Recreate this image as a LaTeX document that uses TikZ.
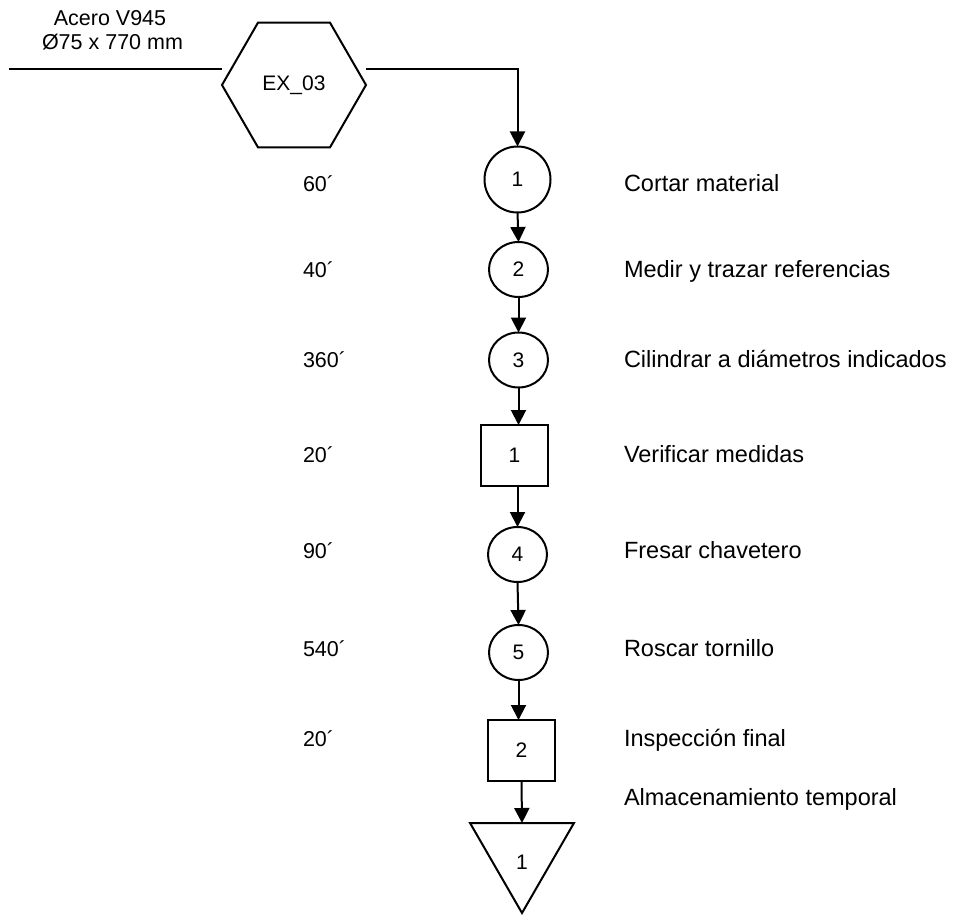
\documentclass[tikz,border=0pt]{standalone}
\usepackage{fontspec}
\setmainfont{Liberation Sans}
\usetikzlibrary{arrows.meta,shapes.geometric}
\begin{document}
\begin{tikzpicture}[x=1pt,y=-1pt,
  every node/.style={inner sep=0pt, outer sep=0pt},
  shp/.style={draw, line width=2pt, font=\fontsize{21}{25}\selectfont},
  op/.style={shp, ellipse, minimum width=59pt, minimum height=55pt},
  insp/.style={shp, rectangle, minimum width=67pt, minimum height=61pt},
  tlab/.style={anchor=base west, font=\fontsize{21.5}{25}\selectfont},
  dlab/.style={anchor=base west, font=\fontsize{23.5}{28}\selectfont},
  toplab/.style={anchor=base, font=\fontsize{21.5}{25}\selectfont},
  flow/.style={line width=2pt, -{Triangle[length=15pt,width=15pt]}},
  plain/.style={line width=2pt}]
\useasboundingbox (0,0) rectangle (958,915);

% material
\node[toplab] (mat1) at (110,26) {Acero V945};
\node[toplab] (mat2) at (112.5,50) {Ø75 x 770 mm};

% shapes
\node[shp, regular polygon, regular polygon sides=6, minimum size=144pt] (hex) at (294,85) {EX\_03};
\node[shp, circle, minimum size=66pt] (c1) at (517.5,179.5) {1};
\node[op] (c2) at (518.5,269.5) {2};
\node[op] (c3) at (518.5,360) {3};
\node[insp] (s1) at (514.5,455.5) {1};
\node[op] (c4) at (517.5,554.5) {4};
\node[op] (c5) at (518.5,652.5) {5};
\node[insp] (s2) at (521.5,750.5) {2};
\node[shp, regular polygon, regular polygon sides=3, shape border rotate=180, minimum size=120pt] (t1) at (522,853) {\smash{\raisebox{-16pt}{1}}};

% connectors
\coordinate (inL) at (9,69.5);
\draw[plain] (inL) -- (hex.west |- inL);
\draw[flow] (hex.east |- inL) -| (c1.north);
\draw[flow] (c1.south) -- (c2.north);
\draw[flow] (c2.south) -- (c3.north);
\draw[flow] (c3.south) -- (c3.south |- s1.north);
\draw[flow] (s1.south -| c4.north) -- (c4.north);
\draw[flow] (c4.south) -- (c5.north);
\draw[flow] (c5.south) -- (c5.south |- s2.north);
\draw[flow] (s2.south) -- (t1.north);

% times
\node[tlab] (t60) at (303,191) {60´};
\node[tlab] (t40) at (303,277) {40´};
\node[tlab] (t360) at (303,367) {360´};
\node[tlab] (t20a) at (303,462) {20´};
\node[tlab] (t90) at (303,558) {90´};
\node[tlab] (t540) at (303,656) {540´};
\node[tlab] (t20b) at (303,746) {20´};

% descriptions
\node[dlab] (d1) at (624,191) {Cortar material};
\node[dlab] (d2) at (624,277) {Medir y trazar referencias};
\node[dlab] (d3) at (624,367) {Cilindrar a diámetros indicados};
\node[dlab] (d4) at (624,462) {Verificar medidas};
\node[dlab] (d5) at (624,558) {Fresar chavetero};
\node[dlab] (d6) at (624,656) {Roscar tornillo};
\node[dlab] (d7) at (624,746) {Inspección final};
\node[dlab] (d8) at (624,805) {Almacenamiento temporal};
\end{tikzpicture}
\end{document}
